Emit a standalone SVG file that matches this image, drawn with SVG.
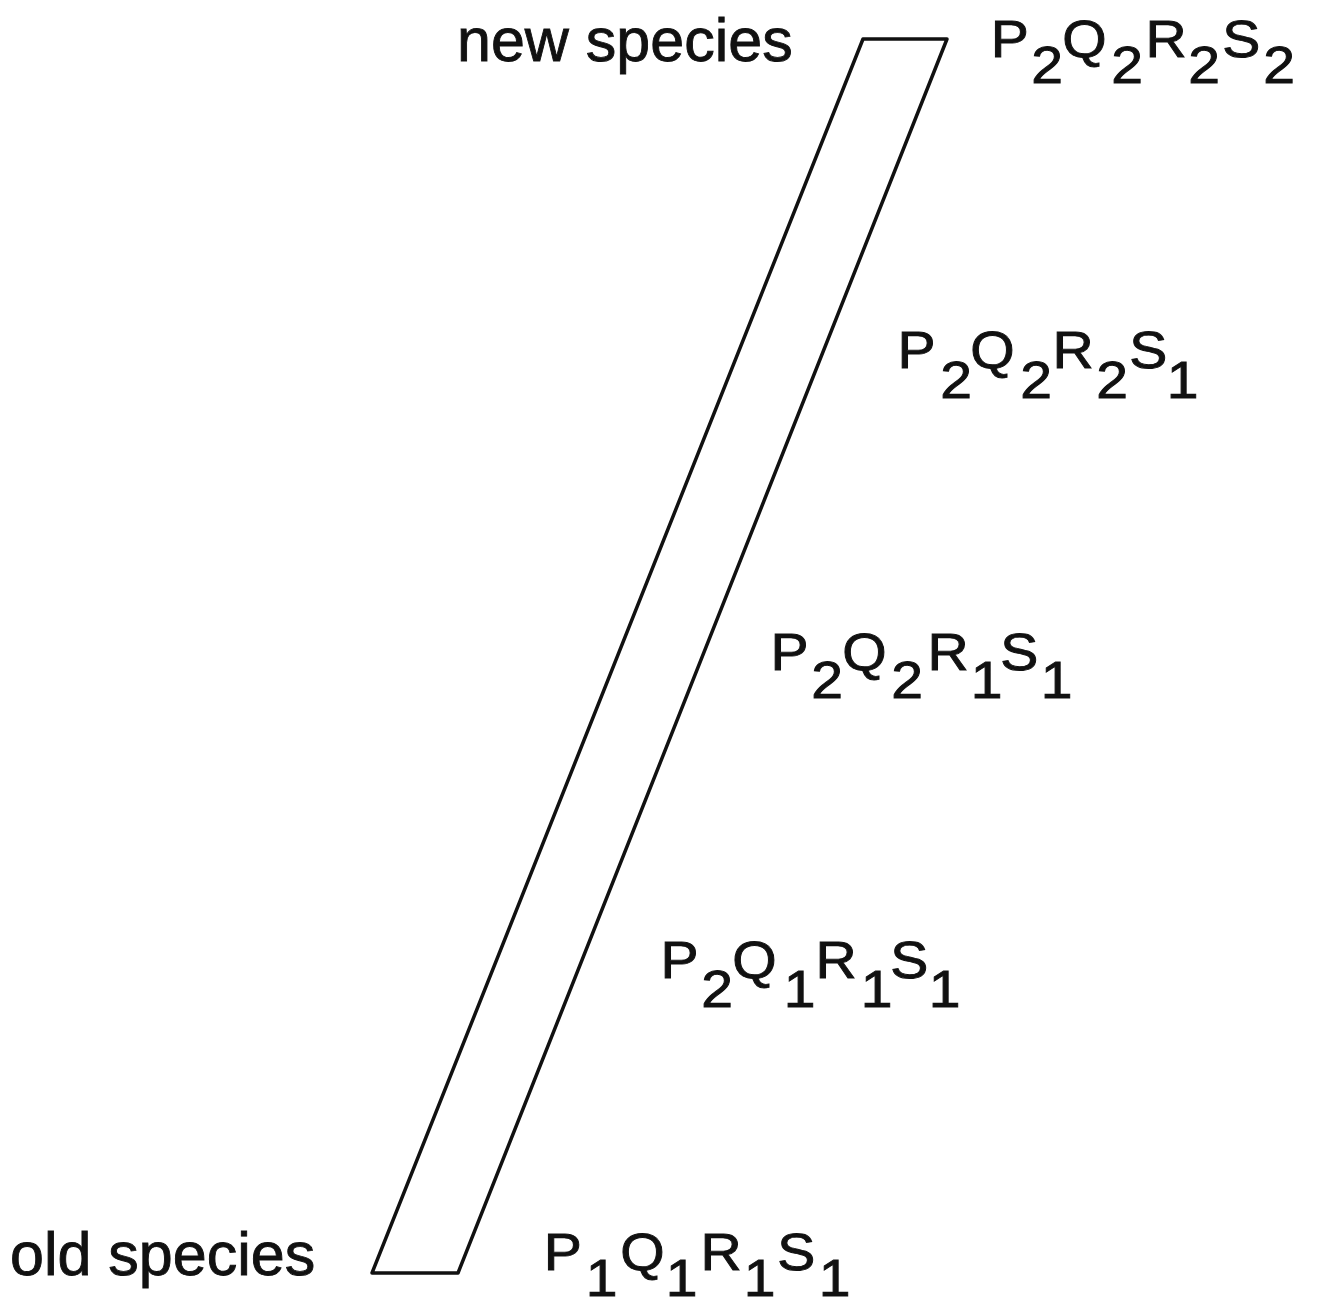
<svg xmlns="http://www.w3.org/2000/svg" width="1317" height="1303" viewBox="0 0 1317 1303">
<style>
.lbl{font-family:"Liberation Sans",Arial,sans-serif;font-size:61px;fill:#111;stroke:#111;stroke-width:0.9px}
.f{font-family:"Liberation Sans",Arial,sans-serif;font-size:51px;fill:#111;stroke:#111;stroke-width:0.9px}
.band{fill:none;stroke:#111;stroke-width:3.5;stroke-linejoin:round}
</style>
<rect width="1317" height="1303" fill="#fff"/>
<g id="band"><polygon class="band" points="863,39 947,39 458,1273 372,1273"/></g>
<g id="labels">
<text id="new-species" class="lbl" x="457" y="61">new species</text>
<text id="old-species" class="lbl" x="10" y="1275">old species</text>
</g>
<g id="formulas" transform="scale(1.12,1)">
<text id="f1" class="f"><tspan x="884.5" y="57">P</tspan><tspan x="920.8" y="83">2</tspan><tspan x="948.5" y="57">Q</tspan><tspan x="992.2" y="83">2</tspan><tspan x="1022.8" y="57">R</tspan><tspan x="1061" y="83">2</tspan><tspan x="1091.3" y="57">S</tspan><tspan x="1128" y="83">2</tspan></text>
<text id="f2" class="f"><tspan x="801.4" y="368">P</tspan><tspan x="839.6" y="398">2</tspan><tspan x="866.3" y="368">Q</tspan><tspan x="911" y="398">2</tspan><tspan x="939.7" y="368">R</tspan><tspan x="978.8" y="398">2</tspan><tspan x="1008.3" y="368">S</tspan><tspan x="1041.7" y="398">1</tspan></text>
<text id="f3" class="f"><tspan x="688" y="670">P</tspan><tspan x="724.4" y="698">2</tspan><tspan x="752.1" y="670">Q</tspan><tspan x="795.8" y="698">2</tspan><tspan x="828.1" y="670">R</tspan><tspan x="866.7" y="698">1</tspan><tspan x="893.1" y="670">S</tspan><tspan x="929.2" y="698">1</tspan></text>
<text id="f4" class="f"><tspan x="589.8" y="978">P</tspan><tspan x="626.2" y="1007">2</tspan><tspan x="653.8" y="978">Q</tspan><tspan x="699.7" y="1007">1</tspan><tspan x="728.1" y="978">R</tspan><tspan x="768.5" y="1007">1</tspan><tspan x="794.9" y="978">S</tspan><tspan x="829.2" y="1007">1</tspan></text>
<text id="f5" class="f"><tspan x="485.4" y="1270">P</tspan><tspan x="522.9" y="1296">1</tspan><tspan x="553.8" y="1270">Q</tspan><tspan x="594.4" y="1296">1</tspan><tspan x="625.4" y="1270">R</tspan><tspan x="664" y="1296">1</tspan><tspan x="694" y="1270">S</tspan><tspan x="731" y="1296">1</tspan></text>
</g>
</svg>
